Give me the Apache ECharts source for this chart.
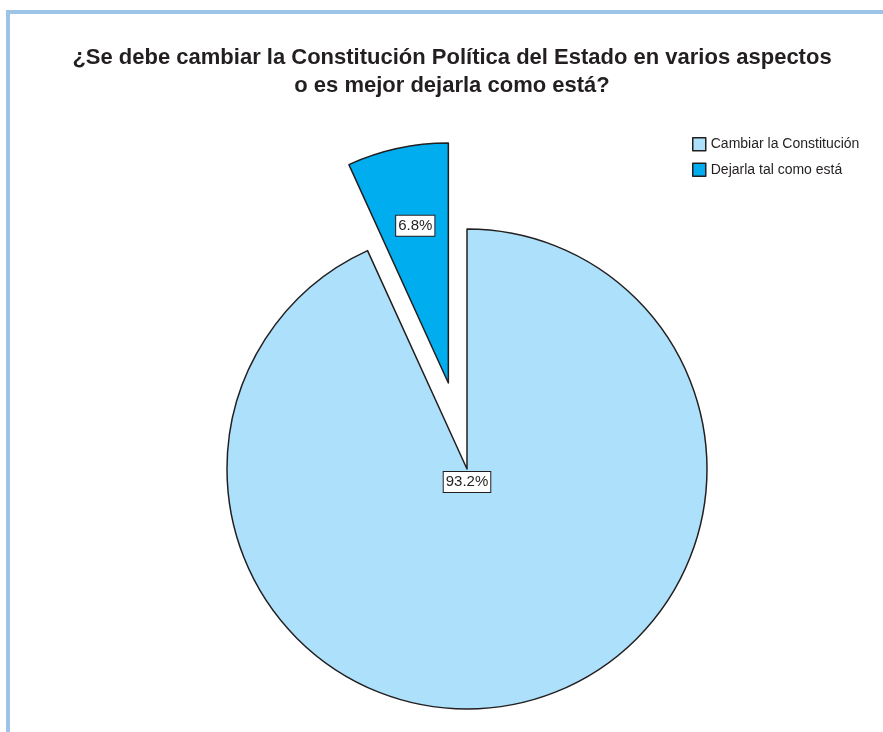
<!DOCTYPE html>
<html><head><meta charset="utf-8">
<script src="https://cdn.jsdelivr.net/npm/echarts@6/dist/echarts.min.js"></script>
<style>html,body{margin:0;padding:0;background:#fff}#c{width:883px;height:732px}</style>
</head><body><div id="c"></div>
<script>
const titleLines = ['¿Se debe cambiar la Constitución Política del Estado en varios aspectos', 'o es mejor dejarla como está?'];
const categories = ['Cambiar la Constitución', 'Dejarla tal como está'];
const values = [93.2, 6.8];
const colors = ['#ade1fb', '#00aeef'];
const exploded = [false, true];

const chart = echarts.init(document.getElementById('c'), null, {renderer: 'canvas'});
const data = categories.map((name, i) => ({
  name, value: values[i], selected: exploded[i],
  itemStyle: {color: colors[i]},
  label: i === 0 ? {position: 'center'} : {position: 'inside'}
}));
chart.setOption({
  animation: false,
  backgroundColor: '#fff',
  graphic: [
    {type: 'rect', shape: {x: 6, y: 10, width: 877, height: 4}, style: {fill: '#9dc3e6'}},
    {type: 'rect', shape: {x: 6, y: 10, width: 4, height: 722}, style: {fill: '#9dc3e6'}}
  ],
  title: {
    text: titleLines.join('\n'), left: 447, top: 39, textAlign: 'center',
    textStyle: {fontFamily: 'Liberation Sans', fontWeight: 'bold', fontSize: 22, lineHeight: 28, color: '#231f20'}
  },
  legend: {
    orient: 'vertical', left: 687, top: 132, itemWidth: 13, itemHeight: 13, itemGap: 11,
    icon: 'rect', selectedMode: false,
    itemStyle: {borderColor: '#231f20', borderWidth: 1.5},
    textStyle: {fontFamily: 'Liberation Sans', fontSize: 14, color: '#231f20'},
    data: categories
  },
  series: [{
    type: 'pie', center: [467, 469], radius: 240, startAngle: 90, clockwise: true,
    selectedMode: 'single', selectedOffset: 88,
    emphasis: {disabled: true}, avoidLabelOverlap: false,
    itemStyle: {borderColor: '#231f20', borderWidth: 1.5},
    label: {
      show: true, formatter: p => p.value.toFixed(1) + '%',
      fontFamily: 'Liberation Sans', fontSize: 15, color: '#231f20',
      backgroundColor: '#fff', borderColor: '#231f20', borderWidth: 1, padding: [3, 2, 2, 2]
    },
    labelLine: {show: false},
    labelLayout: p => p.dataIndex === 0 ? {dy: 13} : {dx: -7, dy: -37},
    data
  }]
});
</script></body></html>
